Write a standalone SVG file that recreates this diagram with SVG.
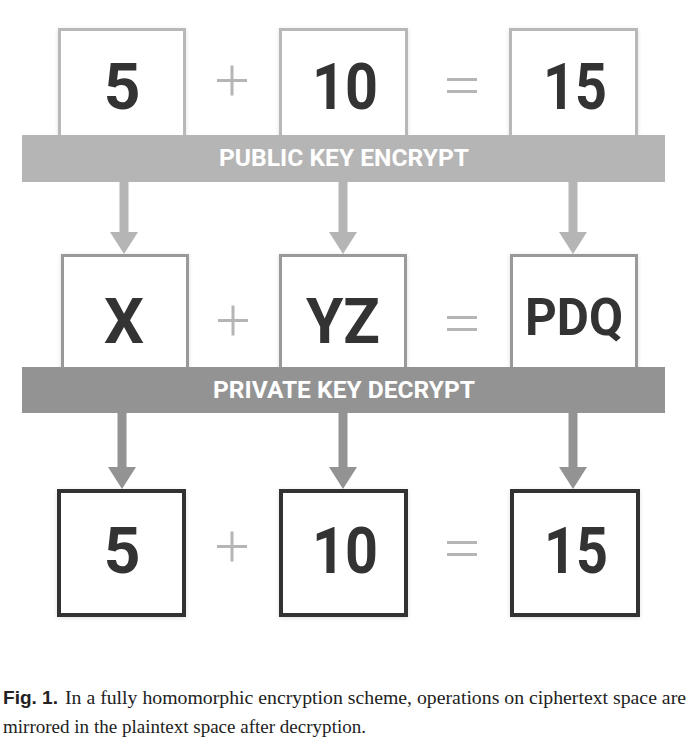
<svg xmlns="http://www.w3.org/2000/svg" width="689" height="744" viewBox="0 0 689 744">
<defs>
<filter id="sh" x="-10%" y="-10%" width="120%" height="120%">
<feDropShadow dx="0" dy="1" stdDeviation="2" flood-color="#000" flood-opacity="0.12"/>
</filter>
<style>
.b1{fill:#fff;stroke:#b8b8b8;stroke-width:3}
.b2{fill:#fff;stroke:#999;stroke-width:3}
.b3{fill:#fff;stroke:#333;stroke-width:4}
.big{font-family:Roboto,"Liberation Sans",sans-serif;font-weight:bold;fill:#333;text-anchor:middle}
.band1{fill:#b5b5b5}
.band2{fill:#939393}
.bt{font-family:Roboto,"Liberation Sans",sans-serif;font-weight:bold;font-size:23px;fill:#fff;text-anchor:middle}
.op{stroke:#b5b5b5;stroke-width:3;fill:none}
.a1{fill:#b5b5b5}
.a2{fill:#939393}
.cap{font-family:"Liberation Serif",serif;font-size:19px;fill:#222}
.capb{font-family:"Liberation Sans",sans-serif;font-weight:bold;font-size:18px;fill:#222}
</style>
</defs>
<rect width="689" height="744" fill="#fff"/>

<!-- Row 1 plaintext -->
<g id="p1"><rect class="b1" x="59.5" y="29.5" width="125" height="120" filter="url(#sh)"/><text class="big" x="122" y="109" font-size="64">5</text></g>
<g id="p2"><rect class="b1" x="280.5" y="29.5" width="126" height="120" filter="url(#sh)"/><text class="big" x="345" y="109" font-size="64" textLength="66" lengthAdjust="spacingAndGlyphs">10</text></g>
<g id="p3"><rect class="b1" x="510.5" y="29.5" width="126" height="120" filter="url(#sh)"/><text class="big" x="575" y="109" font-size="64" textLength="64" lengthAdjust="spacingAndGlyphs">15</text></g>
<g id="op1"><path class="op" d="M217 80.5H247M232 65.5V95.5M447 79.5H477M447 91.5H477"/></g>

<!-- Band 1 -->
<g id="encrypt"><rect class="band1" x="22" y="135" width="643" height="47"/><text class="bt" x="344" y="166" textLength="250" lengthAdjust="spacingAndGlyphs">PUBLIC KEY ENCRYPT</text></g>

<!-- Row 2 ciphertext -->
<g id="c1"><rect class="b2" x="62.5" y="255.5" width="125" height="125" filter="url(#sh)"/><text class="big" x="124" y="343" font-size="63">X</text></g>
<g id="c2"><rect class="b2" x="280.5" y="255.5" width="125" height="125" filter="url(#sh)"/><text class="big" x="343" y="343" font-size="63" textLength="74" lengthAdjust="spacingAndGlyphs">YZ</text></g>
<g id="c3"><rect class="b2" x="511.5" y="255.5" width="125" height="125" filter="url(#sh)"/><text class="big" x="574" y="335" font-size="52" textLength="98" lengthAdjust="spacingAndGlyphs">PDQ</text></g>
<g id="op2"><path class="op" d="M218 320.5H248M233 305.5V335.5M447 317.5H477M447 329.5H477"/></g>

<!-- Band 2 -->
<g id="decrypt"><rect class="band2" x="22" y="367" width="643" height="46"/><text class="bt" x="344" y="398" textLength="262" lengthAdjust="spacingAndGlyphs">PRIVATE KEY DECRYPT</text></g>

<!-- Row 3 plaintext result -->
<g id="r1"><rect class="b3" x="59" y="491" width="125" height="124" filter="url(#sh)"/><text class="big" x="122" y="573" font-size="64">5</text></g>
<g id="r2"><rect class="b3" x="281" y="491" width="125" height="124" filter="url(#sh)"/><text class="big" x="345" y="573" font-size="64" textLength="66" lengthAdjust="spacingAndGlyphs">10</text></g>
<g id="r3"><rect class="b3" x="512" y="491" width="126" height="124" filter="url(#sh)"/><text class="big" x="576" y="573" font-size="64" textLength="64" lengthAdjust="spacingAndGlyphs">15</text></g>
<g id="op3"><path class="op" d="M217 546.5H247M232 531.5V561.5M447 542.5H477M447 554.5H477"/></g>

<!-- Connectors -->
<g id="connectors">
<path class="a1" d="M119.5 182H128.5V232H138L124 254L110 232H119.5Z"/>
<path class="a1" d="M338.5 182H347.5V232H357L343 254L329 232H338.5Z"/>
<path class="a1" d="M568.5 182H577.5V232H587L573 254L559 232H568.5Z"/>
<path class="a2" d="M117.5 413H126.5V467H136L122 489L108 467H117.5Z"/>
<path class="a2" d="M338.5 413H347.5V467H357L343 489L329 467H338.5Z"/>
<path class="a2" d="M568.5 413H577.5V467H587L573 489L559 467H568.5Z"/>
</g>

<!-- Caption -->
<text x="3" y="704"><tspan class="capb" textLength="55" lengthAdjust="spacingAndGlyphs">Fig. 1.</tspan><tspan class="cap" x="65" textLength="621" lengthAdjust="spacingAndGlyphs">In a fully homomorphic encryption scheme, operations on ciphertext space are</tspan></text>
<text class="cap" x="3" y="733" textLength="363" lengthAdjust="spacingAndGlyphs">mirrored in the plaintext space after decryption.</text>
</svg>
